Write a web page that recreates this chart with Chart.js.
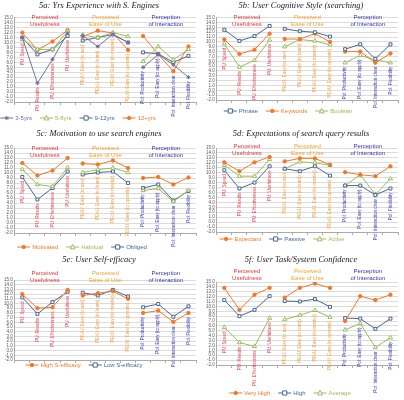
<!DOCTYPE html>
<html>
<head>
<meta charset="utf-8">
<script src="https://cdn.jsdelivr.net/npm/chart.js@4.4.0/dist/chart.umd.min.js"></script>
<style>
  html, body { margin: 0; padding: 0; background: #fff; }
  #wrap { position: relative; width: 404px; height: 400px; overflow: hidden; }
  .panel { position: absolute; }
</style>
</head>
<body>
<div id="wrap"></div>
<script>
// Categories (shared by all six panels)
const categories = [
  'PU: Speed', 'PU: Results', 'PU: Effectiveness', 'PU: Usefulness',
  'PEoU: Easy (to use)', 'PEoU: Easy (to learn)', 'PEoU: Easy (to master)', 'PEoU: Easy (to operate)',
  'PoI: Productivity', 'PoI: Easy (to apply)', 'PoI: Interaction clear', 'PoI: Flexibility'
];
const groupHeaders = [
  ['Perceived', 'Usefulness'],
  ['Perceived', 'Ease of Use'],
  ['Perception', 'of Interaction']
];
const yMin = -2;
const yMax = 15;

// 5a: years of experience
const yrs3to5 = [11.0, 1.8, 6.6, 11.9, 11.4, 9.2, 11.7, 10.0, 5.0, 7.6, 5.5, 3.0];
const yrs5to8 = [10.6, 8.6, 8.6, 12.3, 11.5, 11.0, 12.0, 11.2, 6.2, 9.2, 6.5, 8.6];
const yrs9to12 = [11.0, 7.6, 8.6, 11.3, 10.4, 11.0, 11.6, 10.0, 8.0, 7.7, 6.0, 7.3];
const yrs12plus = [12.0, 8.5, 10.2, 12.5, 11.2, 12.4, 11.9, 8.5, 11.3, 7.6, 4.2, 9.2];

// 5b: cognitive style
const stylePhrase = [12.5, 10.2, 11.2, 13.3, 12.7, 12.2, 12.0, 11.1, 8.5, 9.5, 6.5, 9.5];
const styleKeywords = [10.5, 7.5, 8.4, 11.7, 10.6, 10.6, 11.7, 10.0, 8.0, 8.0, 5.7, 7.6];
const styleBoolean = [9.6, 4.8, 6.2, 10.4, 9.0, 10.5, 10.2, 9.4, 5.7, 7.2, 6.3, 5.7];

// 5c: motivation
const motMotivated = [12.0, 9.5, 10.5, 13.0, 11.9, 11.7, 12.5, 11.0, 9.0, 9.2, 7.7, 9.1];
const motHabitual = [10.7, 7.7, 7.3, 11.1, 10.1, 10.7, 11.0, 10.1, 6.5, 6.9, 4.3, 6.5];
const motObliged = [9.2, 4.7, 7.0, 10.3, 9.7, 10.1, 10.3, 8.0, 7.0, 7.7, 4.5, 6.4];

// 5d: expectations
const expExpectant = [12.1, 10.3, 12.1, 13.2, 12.3, 12.9, 12.9, 11.6, 10.1, 9.6, 9.3, 11.3];
const expPassive = [10.5, 6.8, 8.0, 11.3, 10.8, 10.3, 11.3, 9.4, 7.4, 7.4, 5.5, 6.8];
const expActive = [11.5, 9.3, 9.3, 12.7, 10.8, 12.2, 12.0, 11.5, 7.4, 9.6, 5.6, 8.8];

// 5e: self-efficacy
const effHigh = [12.0, 9.0, 9.2, 12.9, 11.7, 12.2, 12.6, 11.0, 8.0, 8.5, 6.1, 8.0];
const effLow = [11.3, 7.8, 10.3, 12.5, 12.3, 11.7, 12.9, 11.5, 9.2, 9.9, 7.2, 9.4];

// 5f: task/system confidence
const confVeryHigh = [13.8, 9.3, 12.4, 13.8, 11.8, 13.8, 14.7, 13.8, 7.0, 12.1, 11.3, 12.4];
const confHigh = [11.3, 8.0, 9.3, 12.1, 11.1, 11.0, 11.5, 9.9, 7.6, 7.5, 5.4, 7.5];
const confAverage = [5.7, 2.6, 1.8, 7.6, 7.3, 8.2, 9.2, 7.8, 5.2, 6.5, 1.6, 3.6];

// Series styles
const styles = {
  orange: { color: '#f0782a', point: 'circle', radius: 1.7, fill: '#f0782a' },
  olive: { color: '#9bbb59', point: 'triangle', radius: 2.4, fill: '#fff' },
  slate: { color: '#4a6690', point: 'rect', radius: 2.1, fill: '#fff' },
  grey: { color: '#70709c', point: 'star', radius: 2, fill: '#70709c' }
};
const groupColors = ['#e3343a', '#f4a225', '#3434b0'];
const labelColors = ['#e04050', '#f0a040', '#3838b0'];

const panels = [
  { title: '5a: Yrs Experience with S. Engines', x: 0, y: 0, h: 128, top: 17.7, bottom: 102, headY: 17, legY: 118, legCX: 78,
    series: [['3-5yrs', yrs3to5, 'grey'], ['5-8yrs', yrs5to8, 'olive'], ['9-12yrs', yrs9to12, 'slate'], ['12+yrs', yrs12plus, 'orange']] },
  { title: '5b: User Cognitive Style (searching)', x: 202, y: 0, h: 128, top: 17.7, bottom: 100, headY: 17, legY: 111, legCX: 86,
    series: [['Phrase', stylePhrase, 'slate'], ['Keywords', styleKeywords, 'orange'], ['Boolean', styleBoolean, 'olive']] },
  { title: '5c: Motivation to use search engines', x: 0, y: 128, h: 125, top: 20, bottom: 105, headY: 20, legY: 119, legCX: 82,
    series: [['Motivated', motMotivated, 'orange'], ['Habitual', motHabitual, 'olive'], ['Obliged', motObliged, 'slate']] },
  { title: '5d: Expectations of search query results', x: 202, y: 128, h: 125, top: 20, bottom: 104, headY: 18, legY: 111, legCX: 80,
    series: [['Expectant', expExpectant, 'orange'], ['Passive', expPassive, 'slate'], ['Active', expActive, 'olive']] },
  { title: '5e: User Self-efficacy', x: 0, y: 254, h: 146, top: 26, bottom: 106, headY: 19, legY: 111, legCX: 84,
    series: [['High S-efficacy', effHigh, 'orange'], ['Low S-efficacy', effLow, 'slate']] },
  { title: '5f: User Task/System Confidence', x: 202, y: 254, h: 146, top: 28, bottom: 111, headY: 17, legY: 139, legCX: 88,
    series: [['Very High', confVeryHigh, 'orange'], ['High', confHigh, 'slate'], ['Average', confAverage, 'olive']] }
];

// Draw a marker shape (used for the hand drawn legend)
const drawMarker = (ctx, st, x, y) => {
  const r = st.radius;
  ctx.save();
  ctx.fillStyle = st.fill;
  ctx.strokeStyle = st.color;
  ctx.lineWidth = 1;
  ctx.beginPath();
  if (st.point === 'circle') {
    ctx.arc(x, y, r, 0, Math.PI * 2);
  } else if (st.point === 'rect') {
    ctx.rect(x - r, y - r, r * 2, r * 2);
  } else if (st.point === 'triangle') {
    ctx.moveTo(x, y - r * 1.1);
    ctx.lineTo(x + r, y + r * 0.8);
    ctx.lineTo(x - r, y + r * 0.8);
    ctx.closePath();
  } else {
    ctx.moveTo(x - r, y); ctx.lineTo(x + r, y);
    ctx.moveTo(x, y - r); ctx.lineTo(x, y + r);
    ctx.moveTo(x - r * 0.7, y - r * 0.7); ctx.lineTo(x + r * 0.7, y + r * 0.7);
    ctx.moveTo(x - r * 0.7, y + r * 0.7); ctx.lineTo(x + r * 0.7, y - r * 0.7);
  }
  if (st.point !== 'star') ctx.fill();
  ctx.stroke();
  ctx.restore();
};

// Group headers, rotated category labels and legend
const makeDecor = (p) => ({
  id: 'decor',
  afterDraw(chart) {
    const ctx = chart.ctx;
    const xs = chart.scales.x;
    const ys = chart.scales.y;
    ctx.save();

    // group headers
    ctx.textAlign = 'center';
    ctx.textBaseline = 'middle';
    ctx.font = '6px "Liberation Sans", Arial, sans-serif';
    groupHeaders.forEach((lines, g) => {
      const cx = (xs.getPixelForValue(g * 4) + xs.getPixelForValue(g * 4 + 3)) / 2;
      ctx.fillStyle = groupColors[g];
      ctx.fillText(lines[0], cx, p.headY);
      ctx.fillText(lines[1], cx, p.headY + 7);
    });

    // category labels, below the lowest point of each category
    ctx.font = '4.5px "Liberation Sans", Arial, sans-serif';
    categories.forEach((cat, i) => {
      const low = Math.min(...p.series.map(s => s[1][i]));
      const x = xs.getPixelForValue(i);
      const y = ys.getPixelForValue(low) + 4;
      ctx.save();
      ctx.translate(x, y);
      ctx.rotate(-Math.PI / 2);
      ctx.textAlign = 'right';
      ctx.textBaseline = 'middle';
      ctx.fillStyle = labelColors[Math.floor(i / 4)];
      ctx.fillText(cat, 0, 0);
      ctx.restore();
    });

    // legend
    ctx.font = '6px "Liberation Sans", Arial, sans-serif';
    ctx.textAlign = 'left';
    const lineLen = 13, gap = 8;
    const widths = p.series.map(s => lineLen + 2 + ctx.measureText(s[0]).width);
    const total = widths.reduce((a, b) => a + b, 0) + gap * (widths.length - 1);
    let lx = p.legCX - total / 2;
    p.series.forEach((s, i) => {
      const st = styles[s[2]];
      ctx.strokeStyle = st.color;
      ctx.lineWidth = 1;
      ctx.beginPath();
      ctx.moveTo(lx, p.legY);
      ctx.lineTo(lx + lineLen, p.legY);
      ctx.stroke();
      drawMarker(ctx, st, lx + lineLen / 2, p.legY);
      ctx.fillStyle = st.color;
      ctx.fillText(s[0], lx + lineLen + 2, p.legY);
      lx += widths[i] + gap;
    });
    ctx.restore();
  }
});

const wrap = document.getElementById('wrap');

panels.forEach(p => {
  const canvas = document.createElement('canvas');
  canvas.width = 202;
  canvas.height = p.h;
  canvas.className = 'panel';
  canvas.style.left = p.x + 'px';
  canvas.style.top = p.y + 'px';
  wrap.appendChild(canvas);

  const datasets = p.series.map(([label, data, key]) => {
    const st = styles[key];
    return {
      label: label,
      data: data,
      borderColor: st.color,
      borderWidth: 1,
      pointStyle: st.point,
      pointRadius: st.radius,
      pointBackgroundColor: st.fill,
      pointBorderColor: st.color,
      pointBorderWidth: 1,
      tension: 0,
      // no line between the three question groups
      segment: {
        borderColor: c => (c.p0DataIndex === 3 || c.p0DataIndex === 7) ? 'rgba(0,0,0,0)' : st.color
      }
    };
  });

  new Chart(canvas, {
    type: 'line',
    data: { labels: categories, datasets: datasets },
    options: {
      responsive: false,
      animation: false,
      layout: { padding: { left: 2, right: 6, top: 0, bottom: p.h - p.bottom - 3 } },
      plugins: {
        legend: { display: false },
        tooltip: { enabled: false },
        title: {
          display: true,
          text: p.title,
          color: '#222',
          font: { family: '"Liberation Serif", "Times New Roman", serif', style: 'italic', weight: 'normal', size: 8.5 },
          padding: { top: 1, bottom: p.top - 11.2 }
        }
      },
      scales: {
        x: {
          offset: true,
          ticks: { display: false },
          grid: { drawOnChartArea: false, offset: true, tickLength: 3, color: '#aaa' },
          border: { color: '#aaa' }
        },
        y: {
          min: yMin,
          max: yMax,
          ticks: {
            stepSize: 1,
            autoSkip: false,
            padding: 2,
            color: '#555',
            font: { size: 4.5, family: '"Liberation Sans", Arial, sans-serif' },
            callback: v => v.toFixed(1)
          },
          grid: { color: '#dcdcdc', drawTicks: false },
          border: { color: '#aaa' }
        }
      }
    },
    plugins: [makeDecor(p)]
  });
});
</script>
</body>
</html>
